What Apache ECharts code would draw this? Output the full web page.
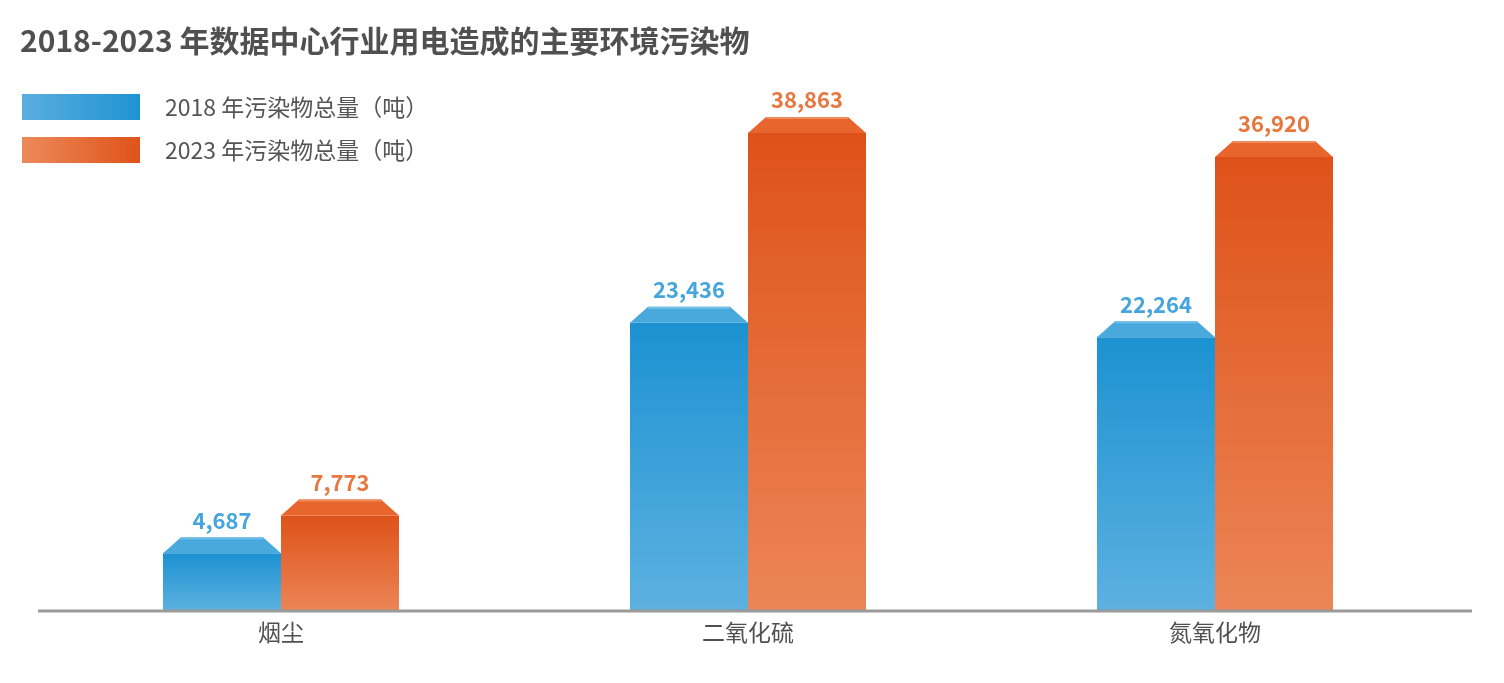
<!DOCTYPE html>
<html>
<head>
<meta charset="utf-8">
<script src="https://cdn.jsdelivr.net/npm/echarts@6/dist/echarts.min.js"></script>
<style>
html,body{margin:0;padding:0;background:#fff;}
#chart{width:1504px;height:683px;}
</style>
</head>
<body>
<div id="chart"></div>
<script>
const titleText = '2018-2023 年数据中心行业用电造成的主要环境污染物';
const categories = ['烟尘', '二氧化硫', '氮氧化物'];
const seriesNames = ['2018 年污染物总量（吨）', '2023 年污染物总量（吨）'];
const values2018 = [4687, 23436, 22264];
const values2023 = [7773, 38863, 36920];

const FONT = '"Noto Sans CJK SC", "Noto Sans", sans-serif';
const palette = [
  { top: '#1c92d2', bottom: '#5db1e0', cap: '#49a8dc', capEdge: '#74c0e8', label: '#45a5dc', legL: '#5aaedf', legR: '#1f93d3' },
  { top: '#de5219', bottom: '#ec8556', cap: '#e8662e', capEdge: '#ef8c5e', label: '#e8773f', legL: '#ec8a5b', legR: '#df5319' }
];

const BAR_W = 118, CAP_H = 16, CAP_IN = 18;

function makeRender(side) {
  const c = palette[side];
  return function (params, api) {
    const idx = api.value(0), v = api.value(1);
    const base = api.coord([idx, 0]);
    const top = api.coord([idx, v]);
    const x0 = side === 0 ? base[0] - BAR_W : base[0];
    const yTop = top[1];
    const yCap = yTop - CAP_H;
    return {
      type: 'group',
      children: [
        {
          type: 'rect',
          shape: { x: x0, y: yTop, width: BAR_W, height: base[1] - yTop },
          style: { fill: new echarts.graphic.LinearGradient(0, 0, 0, 1, [
            { offset: 0, color: c.top }, { offset: 1, color: c.bottom }]) }
        },
        {
          type: 'polygon',
          shape: { points: [[x0, yTop], [x0 + CAP_IN, yCap], [x0 + BAR_W - CAP_IN, yCap], [x0 + BAR_W, yTop]] },
          style: { fill: c.cap }
        },
        {
          type: 'line',
          shape: { x1: x0 + CAP_IN, y1: yCap + 1, x2: x0 + BAR_W - CAP_IN, y2: yCap + 1 },
          style: { stroke: c.capEdge, lineWidth: 2 }
        },
        {
          type: 'text',
          style: {
            text: Number(v).toLocaleString('en-US'),
            x: x0 + BAR_W / 2, y: yCap - 6,
            align: 'center', verticalAlign: 'bottom',
            fill: c.label, fontSize: 22, fontWeight: 'bold', fontFamily: FONT
          }
        }
      ]
    };
  };
}

function legendGrad(c) {
  return new echarts.graphic.LinearGradient(0, 0, 1, 0, [
    { offset: 0, color: c.legL }, { offset: 1, color: c.legR }]);
}

const chart = echarts.init(document.getElementById('chart'));
chart.setOption({
  animation: false,
  backgroundColor: '#ffffff',
  title: {
    text: titleText, left: 20, top: 26, padding: 0,
    textStyle: { fontSize: 30, fontWeight: 'bold', color: '#505050', fontFamily: FONT }
  },
  legend: {
    orient: 'vertical', left: 22, top: 94, padding: 0,
    itemWidth: 118, itemHeight: 26, itemGap: 17, icon: 'rect',
    textStyle: { fontSize: 23, color: '#555555', fontFamily: FONT, padding: [0, 0, 0, 20] },
    data: [
      { name: seriesNames[0], itemStyle: { color: legendGrad(palette[0]) } },
      { name: seriesNames[1], itemStyle: { color: legendGrad(palette[1]) } }
    ]
  },
  grid: { left: 47.5, right: 55.5, top: 119, bottom: 72 },
  xAxis: {
    type: 'category', data: categories,
    axisLine: { show: false }, axisTick: { show: false },
    axisLabel: { fontSize: 23, color: '#505050', fontFamily: FONT, margin: 10 }
  },
  yAxis: {
    type: 'value', min: 0, max: 40000, show: false,
    splitLine: { show: false }
  },
  graphic: [{
    type: 'line', z: 10,
    shape: { x1: 38, y1: 611, x2: 1472, y2: 611 },
    style: { stroke: '#9a9a9a', lineWidth: 3 }
  }],
  series: [
    {
      name: seriesNames[0], type: 'custom', renderItem: makeRender(0),
      itemStyle: { color: palette[0].top },
      encode: { x: 0, y: 1 },
      data: values2018.map((v, i) => [i, v])
    },
    {
      name: seriesNames[1], type: 'custom', renderItem: makeRender(1),
      itemStyle: { color: palette[1].top },
      encode: { x: 0, y: 1 },
      data: values2023.map((v, i) => [i, v])
    }
  ]
});
</script>
</body>
</html>
